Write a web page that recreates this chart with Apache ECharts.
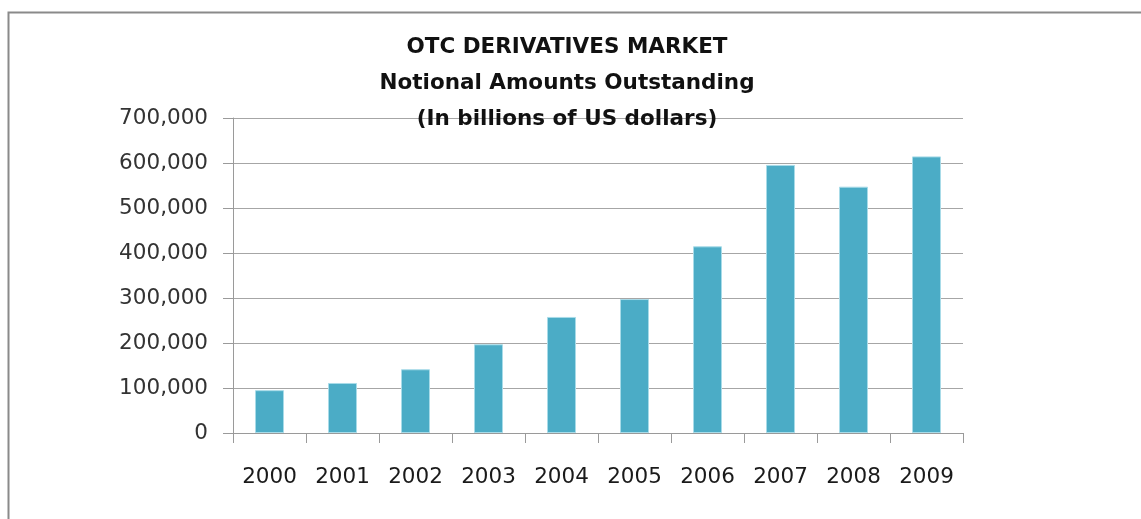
<!DOCTYPE html>
<html>
<head>
<meta charset="utf-8">
<script src="https://cdn.jsdelivr.net/npm/echarts@6/dist/echarts.min.js"></script>
<style>
  html, body { margin: 0; padding: 0; background: #ffffff; }
  #chart { width: 1141px; height: 519px; }
</style>
</head>
<body>
<div id="chart"></div>
<script>
// OTC derivatives, notional amounts outstanding (billions of US dollars)
const years = ['2000', '2001', '2002', '2003', '2004', '2005', '2006', '2007', '2008', '2009'];
const notional = [95199, 111178, 141665, 197167, 257894, 297666, 414845, 595738, 547371, 614674];
const titleLines = ['OTC DERIVATIVES MARKET', 'Notional Amounts Outstanding', '(In billions of US dollars)'];

const chart = echarts.init(document.getElementById('chart'));

const fmt = v => v.toLocaleString('en-US');

chart.setOption({
  animation: false,
  backgroundColor: '#ffffff',
  title: {
    text: titleLines.join('\n'),
    left: 562,
    top: 24,
    textAlign: 'center',
    textStyle: {
      fontFamily: 'DejaVu Sans',
      fontWeight: 'bold',
      fontSize: 21.5,
      lineHeight: 36,
      color: '#111111'
    }
  },
  graphic: [{
    type: 'rect',
    left: 6,
    top: 10,
    shape: { width: 1160, height: 540 },
    style: { fill: 'none', stroke: '#8a8a8a', lineWidth: 2 },
    silent: true,
    z: -1
  }],
  grid: { left: 233, right: 178, top: 118, bottom: 86, containLabel: false },
  xAxis: {
    type: 'category',
    data: years,
    axisLine: { lineStyle: { color: '#9a9a9a', width: 1 } },
    axisTick: { show: true, length: 10, alignWithLabel: false, lineStyle: { color: '#9a9a9a' } },
    axisLabel: {
      margin: 33,
      fontFamily: 'DejaVu Sans',
      fontSize: 21.5,
      color: '#1a1a1a'
    }
  },
  yAxis: {
    type: 'value',
    min: 0,
    max: 700000,
    interval: 100000,
    axisLine: { show: true, lineStyle: { color: '#9a9a9a', width: 1 } },
    axisTick: { show: true, length: 10, lineStyle: { color: '#9a9a9a' } },
    splitLine: { show: true, lineStyle: { color: '#a6a6a6', width: 1 } },
    axisLabel: {
      margin: 25,
      formatter: v => fmt(v),
      fontFamily: 'DejaVu Sans',
      fontSize: 21.5,
      color: '#333333'
    }
  },
  series: [{
    type: 'bar',
    data: notional,
    barWidth: 29,
    itemStyle: {
      color: '#4bacc6',
      borderColor: '#a8dbe8',
      borderWidth: 1
    }
  }]
});
</script>
</body>
</html>
